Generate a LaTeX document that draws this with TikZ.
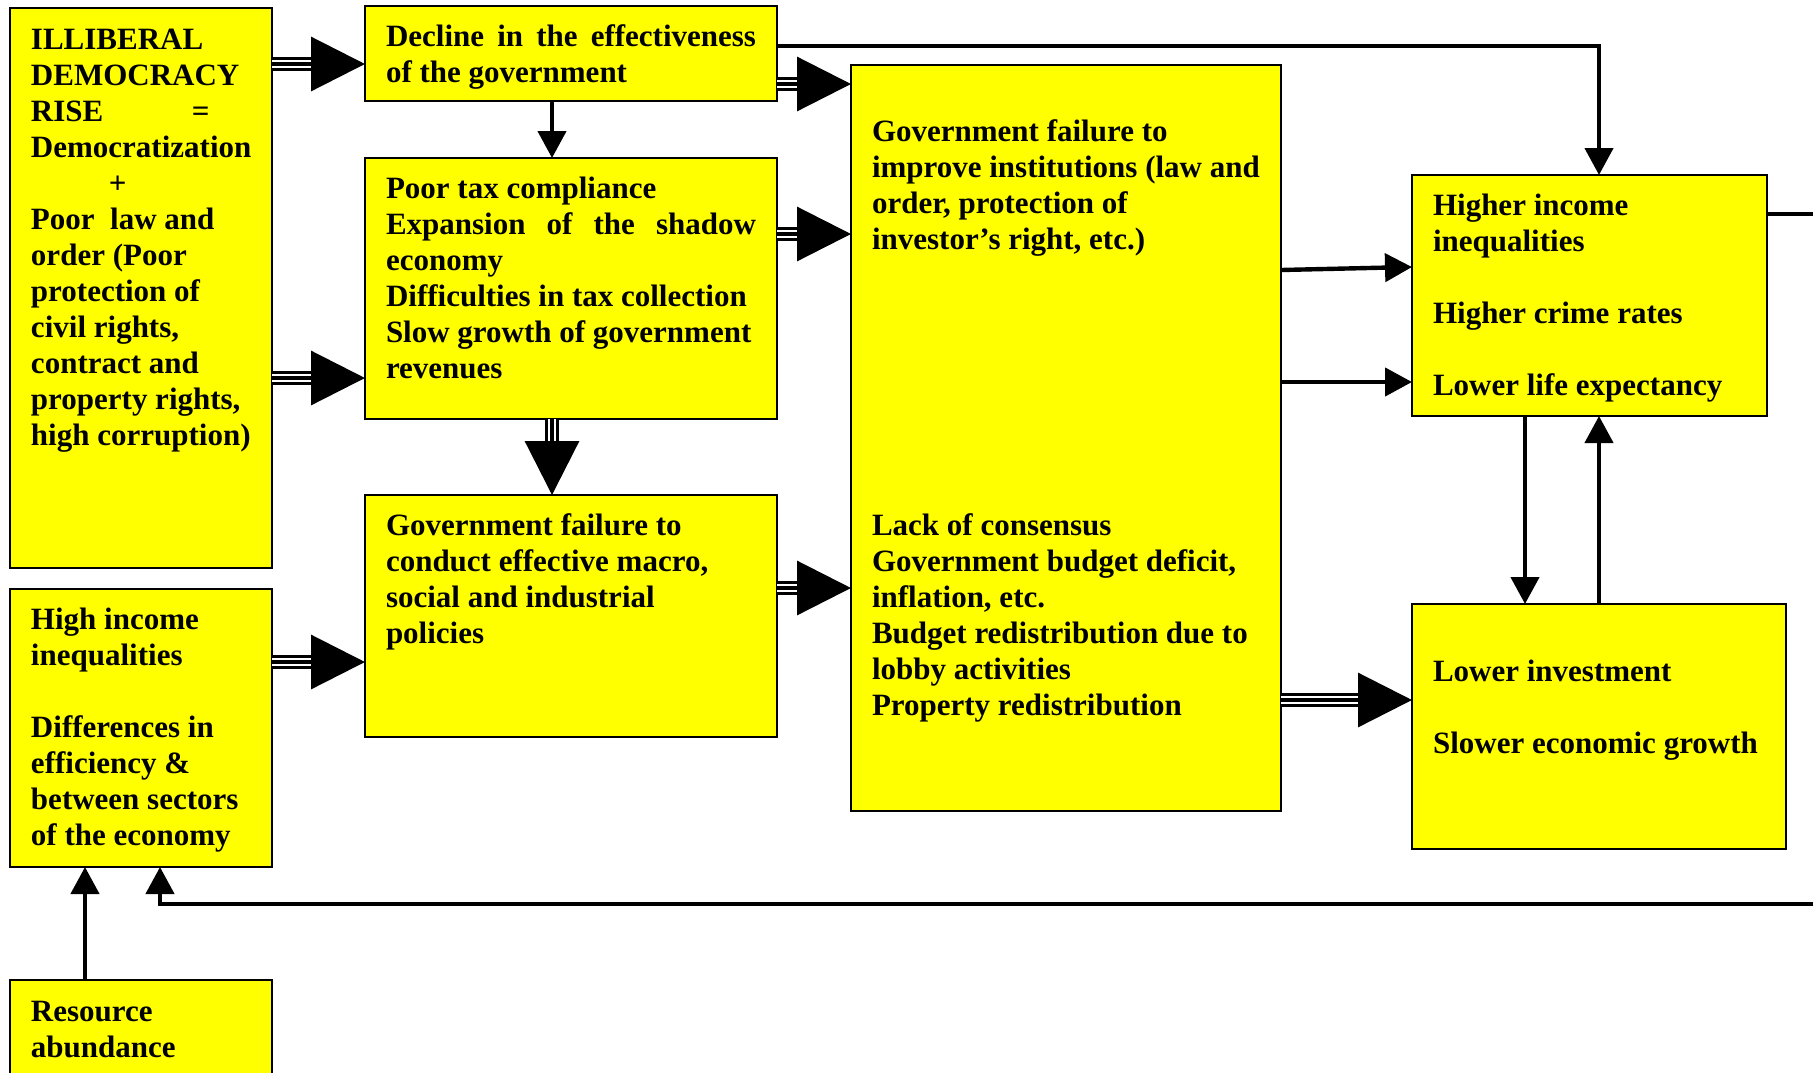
\documentclass[tikz,border=0pt]{standalone}
\usepackage{fontspec}
\setmainfont{Liberation Serif}
\usetikzlibrary{arrows.meta}
\hyphenpenalty=10000
\exhyphenpenalty=10000
\definecolor{boxyellow}{RGB}{255,255,0}

\tikzset{
  cell/.style n args={3}{draw, line width=0.8pt, fill=boxyellow, anchor=north west,
    outer sep=0pt, inner xsep=10.5pt, inner ysep=0pt, align=flush left,
    text width=#1, text height=#2, text depth=#3},
  link/.style={line width=2.2pt, -{Triangle[length=13.5pt,width=14pt]}},
  flow/.style={line width=1.6pt, -{Triangle[length=27pt,width=27pt]},
    preaction={draw, -, line width=7.3pt, shorten >=26pt},
    preaction={draw, -, white, line width=4.3pt, shorten >=26pt}},
}

\begin{document}
\begin{tikzpicture}[x=0.5pt,y=-0.5pt,font=\fontsize{15.5pt}{18pt}\selectfont\bfseries]
  \useasboundingbox (0,0) rectangle (1813,1072);

  % left column
  \node[cell={110pt}{20.5pt}{259.5pt}] (ill) at (10,8) {ILLIBERAL\\
    DEMOCRACY\\
    \makebox[80.5pt][l]{RISE}=\\
    Democratization\\
    \hspace*{39pt}+\\
    Poor\ \ law and\\
    order (Poor\\
    protection of\\
    civil rights,\\
    contract and\\
    property rights,\\
    high~corruption)};
  \node[cell={110pt}{20pt}{119pt}] (ineq) at (10,589) {High income\\
    inequalities\\[18pt]
    Differences in\\
    efficiency \&\\
    between sectors\\
    of the economy};
  \node[cell={110pt}{20.5pt}{39.5pt}] (res) at (10,980) {Resource\\abundance};

  % second column
  \node[cell={185pt}{20pt}{27.5pt}] (decline) at (365,6)
    {Decline\hfill in\hfill the\hfill effectiveness\\of the government};
  \node[cell={185pt}{20pt}{110.5pt}] (tax) at (365,158) {Poor tax compliance\\
    Expansion\hfill of\hfill the\hfill shadow\\
    economy\\
    Difficulties in tax collection\\
    Slow~growth~of~government\\
    revenues};
  \node[cell={185pt}{20pt}{101pt}] (macro) at (365,495) {Government failure to\\
    conduct effective macro,\\
    social and industrial\\
    policies};

  % third column
  \node[cell={194pt}{38pt}{335pt}] (big) at (851,65) {Government failure to\\
    improve~institutions~(law~and\\
    order, protection of\\
    investor’s right, etc.)\\[125pt]
    Lack of consensus\\
    Government budget deficit,\\
    inflation, etc.\\
    Budget redistribution due to\\
    lobby activities\\
    Property redistribution};

  % right column
  \node[cell={156.5pt}{20pt}{100.5pt}] (hi) at (1412,175) {Higher income\\
    inequalities\\[18pt]
    Higher crime rates\\[18pt]
    Lower life expectancy};
  \node[cell={166pt}{38.5pt}{84pt}] (lowinv) at (1412,604) {Lower investment\\[18pt]
    Slower economic growth};

  % connectors
  \draw[flow] (ill.east |- 0,64) -- (decline.west |- 0,64);
  \draw[flow] (ill.east |- 0,378) -- (tax.west |- 0,378);
  \draw[flow] (ineq.east |- 0,662) -- (macro.west |- 0,662);
  \draw[link] (decline.south -| 552,0) -- (tax.north -| 552,0);
  \draw[flow] (tax.south -| 552,0) -- (macro.north -| 552,0);
  \draw[flow] (decline.east |- 0,84) -- (big.west |- 0,84);
  \draw[flow] (tax.east |- 0,234) -- (big.west |- 0,234);
  \draw[flow] (macro.east |- 0,588) -- (big.west |- 0,588);
  \draw[link] (big.east |- 0,270) -- (hi.west |- 0,267);
  \draw[link] (big.east |- 0,382) -- (hi.west |- 0,382);
  \draw[flow] (big.east |- 0,700) -- (lowinv.west |- 0,700);
  \draw[link] (decline.east |- 0,46) -| (hi.north -| 1599,0);
  \draw[link] (hi.south -| 1525,0) -- (lowinv.north -| 1525,0);
  \draw[link] (lowinv.north -| 1599,0) -- (hi.south -| 1599,0);
  \draw[link] (hi.east |- 0,214) -- (1840,214) -- (1840,904) -| (ineq.south -| 160,0);
  \draw[link] (res.north -| 85,0) -- (ineq.south -| 85,0);
\end{tikzpicture}
\end{document}
